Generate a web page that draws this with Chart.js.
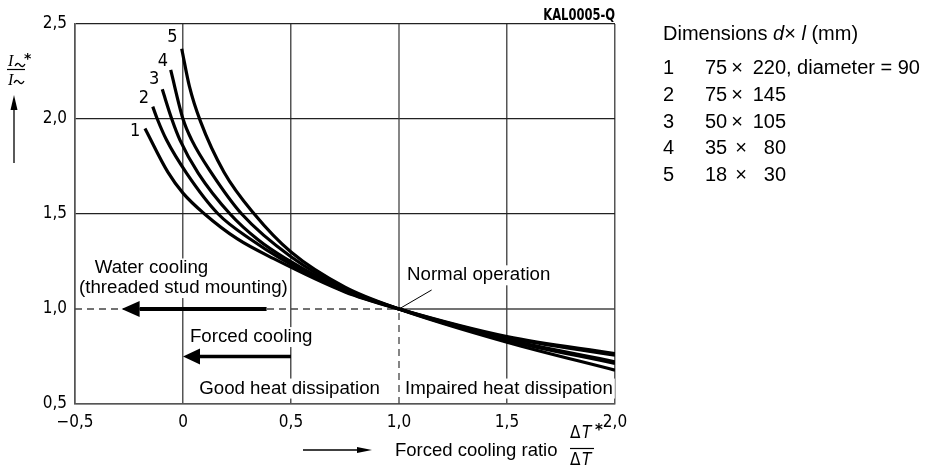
<!DOCTYPE html>
<html>
<head>
<meta charset="utf-8">
<script src="https://cdn.jsdelivr.net/npm/chart.js@4.4.1/dist/chart.umd.min.js"></script>
<style>
  html, body { margin: 0; padding: 0; background: #fff; }
  #wrap { position: relative; width: 937px; height: 469px; }
</style>
</head>
<body>
<div id="wrap"><canvas id="chart"></canvas></div>
<script>
// current ratio I~*/I~ against forced cooling ratio dT*/dT, one curve per size
const curve1X = [-0.176, -0.07, 0.0, 0.10, 0.25, 0.42, 0.75, 1.0, 1.5, 2.0];
const curve1Y = [1.95, 1.72, 1.61, 1.50, 1.37, 1.265, 1.09, 1.0, 0.855, 0.765];
const curve2X = [-0.14, -0.119, -0.076, 0.017, 0.163, 0.318, 0.449, 0.75, 1.0, 1.5, 2.0];
const curve2Y = [2.065, 2.0, 1.889, 1.714, 1.5, 1.363, 1.268, 1.093, 1.0, 0.85, 0.757];
const curve3X = [-0.096, -0.052, -0.014, 0.071, 0.218, 0.349, 0.472, 0.75, 1.0, 1.5, 2.0];
const curve3Y = [2.156, 2.0, 1.889, 1.714, 1.5, 1.363, 1.268, 1.10, 1.0, 0.84, 0.722];
const curve4X = [-0.057, 0.0, 0.04, 0.133, 0.272, 0.5, 0.75, 1.0, 1.5, 2.0];
const curve4Y = [2.258, 2.0, 1.89, 1.714, 1.5, 1.275, 1.107, 1.0, 0.835, 0.714];
const curve5X = [-0.006, 0.03, 0.08, 0.19, 0.33, 0.5, 0.75, 1.0, 1.5, 2.0];
const curve5Y = [2.37, 2.17, 1.99, 1.72, 1.50, 1.30, 1.115, 1.0, 0.825, 0.678];

const curveNames = ['1', '2', '3', '4', '5'];
// where the curve numbers sit (data coords)
const curveNameX = [-0.222, -0.181, -0.134, -0.093, -0.049];
const curveNameY = [1.937, 2.111, 2.211, 2.305, 2.429];

const xTicks = [-0.5, 0, 0.5, 1.0, 1.5, 2.0];
const yTicks = [0.5, 1.0, 1.5, 2.0, 2.5];

// legend table: dimensions d x l (mm)
const dimNo = ['1', '2', '3', '4', '5'];
const dimD = ['75', '75', '50', '35', '18'];
const dimL = ['220', '145', '105', '80', '30'];
const dimNote = [', diameter = 90', '', '', '', ''];

// notes inside the plot (data coords, y = baseline)
const notes = [
  { text: 'Water cooling', x: -0.146, y: 1.187, align: 'center' },
  { text: '(threaded stud mounting)', x: 0.002, y: 1.084, align: 'center' },
  { text: 'Normal operation', x: 1.037, y: 1.151, align: 'left' },
  { text: 'Forced cooling', x: 0.032, y: 0.826, align: 'left' },
  { text: 'Good heat dissipation', x: 0.075, y: 0.555, align: 'left' },
  { text: 'Impaired heat dissipation', x: 1.028, y: 0.555, align: 'left' }
];

const pairs = (xs, ys) => xs.map((v, i) => ({ x: v, y: ys[i] }));
const fmt = v => v === 0 ? '0' : (v < 0 ? '\u2212' : '') + Math.abs(v).toFixed(1).replace('.', ',');

function arrow(ctx, x1, y1, x2, y2, shaft, headLen, headHalf) {
  const a = Math.atan2(y2 - y1, x2 - x1);
  const bx = x2 - Math.cos(a) * headLen, by = y2 - Math.sin(a) * headLen;
  ctx.lineWidth = shaft;
  ctx.beginPath(); ctx.moveTo(x1, y1); ctx.lineTo(bx, by); ctx.stroke();
  ctx.beginPath();
  ctx.moveTo(x2, y2);
  ctx.lineTo(bx - Math.sin(a) * headHalf, by + Math.cos(a) * headHalf);
  ctx.lineTo(bx + Math.sin(a) * headHalf, by - Math.cos(a) * headHalf);
  ctx.closePath(); ctx.fill();
}

function tilde(ctx, x0, cy, w) {
  ctx.lineWidth = 1.3;
  ctx.beginPath();
  ctx.moveTo(x0, cy + 1);
  ctx.quadraticCurveTo(x0 + w * 0.25, cy - 3.5, x0 + w * 0.5, cy);
  ctx.quadraticCurveTo(x0 + w * 0.75, cy + 3.5, x0 + w, cy - 1);
  ctx.stroke();
}

const overlay = {
  id: 'overlay',
  beforeDatasetsDraw(chart) {
    const { ctx, scales: { x, y } } = chart;
    const px = v => x.getPixelForValue(v), py = v => y.getPixelForValue(v);
    ctx.save();
    ctx.strokeStyle = '#444';
    ctx.lineWidth = 1.3;
    const seg = (a, b, c, d) => { ctx.beginPath(); ctx.moveTo(a, b); ctx.lineTo(c, d); ctx.stroke(); };
    seg(px(1), py(1), px(2), py(1));
    seg(px(1), py(1), px(1), py(2.5));
    ctx.setLineDash([7, 5]);
    seg(px(-0.5), py(1), px(1), py(1));
    seg(px(1), py(0.5), px(1), py(1));
    ctx.setLineDash([]);

    // normal operation leader
    ctx.strokeStyle = '#000';
    ctx.lineWidth = 1;
    seg(px(1), py(1), px(1.151), py(1.1));

    ctx.font = '18.7px "Liberation Sans", Arial, sans-serif';
    ctx.textBaseline = 'alphabetic';
    notes.forEach(n => {
      const w = ctx.measureText(n.text).width;
      let left = px(n.x);
      if (n.align === 'center') left -= w / 2;
      ctx.fillStyle = '#fff';
      ctx.fillRect(left - 2, py(n.y) - 15, w + 4, 20);
      ctx.fillStyle = '#000';
      ctx.textAlign = 'left';
      ctx.fillText(n.text, left, py(n.y));
    });

    ctx.fillStyle = '#000';
    ctx.strokeStyle = '#000';
    arrow(ctx, px(0.387), py(1), px(-0.284), py(1), 4, 18, 8);
    arrow(ctx, px(0.5), py(0.75), px(0), py(0.75), 3.5, 17, 8);

    ctx.font = '18px "DejaVu Sans Condensed", sans-serif';
    ctx.textAlign = 'center';
    ctx.textBaseline = 'middle';
    curveNames.forEach((t, i) => ctx.fillText(t, px(curveNameX[i]), py(curveNameY[i])));
    ctx.restore();
  },
  afterDraw(chart) {
    const { ctx, chartArea: ca } = chart;
    ctx.save();
    ctx.fillStyle = '#000';
    ctx.strokeStyle = '#000';
    ctx.textBaseline = 'alphabetic';

    // drawing code top right, narrow technical lettering
    ctx.save();
    ctx.font = 'bold 16px "DejaVu Sans Condensed", sans-serif';
    ctx.textAlign = 'right';
    ctx.translate(ca.right, 20);
    ctx.scale(0.8, 1);
    ctx.fillText('KAL0005-Q', 0, 0);
    ctx.restore();

    // y axis title: I~* / I~ with arrow
    ctx.textAlign = 'left';
    ctx.font = 'italic 16px "Liberation Serif", serif';
    ctx.fillText('I', 8, 66);
    ctx.fillText('I', 8, 85);
    tilde(ctx, 15, 65, 10);
    tilde(ctx, 14, 82, 10);
    ctx.font = 'bold 14px "DejaVu Sans", sans-serif';
    ctx.fillText('*', 24, 63);
    ctx.lineWidth = 1.2;
    ctx.beginPath(); ctx.moveTo(7, 69.5); ctx.lineTo(25, 69.5); ctx.stroke();
    arrow(ctx, 14, 163, 14, 95, 1.3, 15, 3.5);

    // x axis title with arrow and fraction
    arrow(ctx, 303, 450, 372, 450, 1.3, 15, 3);
    ctx.font = '18.5px "Liberation Sans", Arial, sans-serif';
    ctx.fillText('Forced cooling ratio', 395, 456);
    ctx.font = '17px "DejaVu Sans Condensed", sans-serif';
    ctx.fillText('\u0394', 570, 438);
    ctx.fillText('\u0394', 570, 465);
    ctx.font = 'italic 17px "DejaVu Sans Condensed", sans-serif';
    ctx.fillText('T', 582, 438);
    ctx.fillText('T', 582, 465);
    ctx.font = 'bold 15px "DejaVu Sans", sans-serif';
    ctx.fillText('*', 595, 435);
    ctx.lineWidth = 1.2;
    ctx.beginPath(); ctx.moveTo(570, 448.5); ctx.lineTo(594, 448.5); ctx.stroke();

    // dimensions legend
    const lx = 663;
    const reg = '20px "Liberation Sans", Arial, sans-serif';
    const ita = 'italic 20px "Liberation Sans", Arial, sans-serif';
    let cx = lx;
    const put = (t, f) => { ctx.font = f; ctx.fillText(t, cx, 40); cx += ctx.measureText(t).width; };
    put('Dimensions ', reg);
    put('d', ita);
    put('\u00d7 ', reg);
    put('l', ita);
    put(' (mm)', reg);
    ctx.font = reg;
    dimNo.forEach((n, i) => {
      const by = 74 + i * 26.8;
      ctx.textAlign = 'left';
      ctx.fillText(n, lx, by);
      ctx.fillText(dimD[i], 705, by);
      ctx.textAlign = 'center';
      ctx.fillText('\u00d7', dimL[i].length < 3 ? 741 : 737, by);
      ctx.textAlign = 'right';
      ctx.fillText(dimL[i], 786, by);
      ctx.textAlign = 'left';
      if (dimNote[i]) ctx.fillText(dimNote[i], 786, by);
    });
    ctx.restore();
  }
};

const hide1 = col => c => c.tick && c.tick.value === 1 ? 'rgba(0,0,0,0)' : col;
const tickFont = { family: '"DejaVu Sans Condensed", sans-serif', size: 17 };

new Chart(document.getElementById('chart'), {
  type: 'line',
  data: {
    datasets: [
      { label: '1', data: pairs(curve1X, curve1Y) },
      { label: '2', data: pairs(curve2X, curve2Y) },
      { label: '3', data: pairs(curve3X, curve3Y) },
      { label: '4', data: pairs(curve4X, curve4Y) },
      { label: '5', data: pairs(curve5X, curve5Y) }
    ].map(d => Object.assign(d, {
      borderColor: '#000',
      borderWidth: 3.2,
      pointRadius: 0,
      fill: false,
      cubicInterpolationMode: 'monotone'
    }))
  },
  options: {
    responsive: true,
    maintainAspectRatio: false,
    animation: false,
    layout: { padding: { top: 24, right: 322, left: 0, bottom: 0 } },
    scales: {
      x: {
        type: 'linear',
        min: -0.5,
        max: 2.0,
        afterBuildTicks: s => { s.ticks = xTicks.map(v => ({ value: v })); },
        afterFit: s => { s.height = 65; },
        ticks: { callback: fmt, color: '#000', font: tickFont, padding: 8, maxRotation: 0 },
        grid: { color: hide1('#555'), lineWidth: 1.5, drawTicks: false },
        border: { color: '#555', width: 1.5 }
      },
      y: {
        min: 0.5,
        max: 2.5,
        afterBuildTicks: s => { s.ticks = yTicks.map(v => ({ value: v })); },
        afterFit: s => { s.width = 75; },
        ticks: { callback: fmt, color: '#000', font: tickFont, padding: 8 },
        grid: { color: hide1('#222'), lineWidth: 1.2, drawTicks: false },
        border: { color: '#555', width: 1.5 }
      }
    },
    plugins: {
      legend: { display: false },
      tooltip: { enabled: false }
    }
  },
  plugins: [overlay]
});
</script>
</body>
</html>
